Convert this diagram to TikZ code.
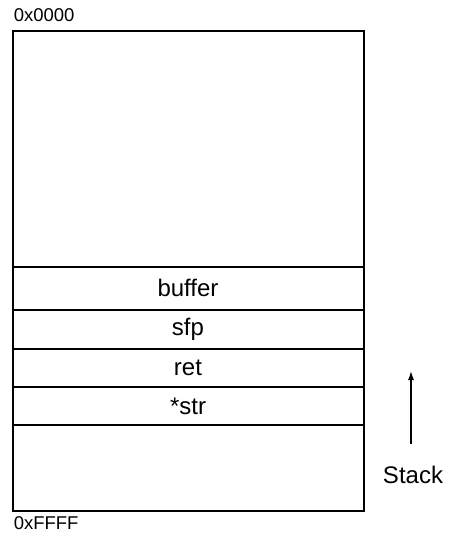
\documentclass[tikz,border=0pt]{standalone}
\usepackage{fontspec}
\setmainfont{Liberation Sans}
\usetikzlibrary{arrows.meta}
\begin{document}
\begin{tikzpicture}[x=1pt,y=-1pt,line width=1.6pt,
    every node/.style={inner sep=0pt},
    cell/.style={font=\fontsize{24}{28}\selectfont},
    addr/.style={font=\fontsize{18.5}{22}\selectfont,anchor=base west}]
  \useasboundingbox (0,0) rectangle (451,537);
  \draw
    (13,31) coordinate (tl)
    (364,511) coordinate (br);
  \draw (tl) rectangle (br);
  \begin{scope}
    \draw (13,267) coordinate (l0) -- (364,267) coordinate (r0);
    \draw (13,310) coordinate (l1) -- (364,310) coordinate (r1);
    \draw (13,349) coordinate (l2) -- (364,349) coordinate (r2);
    \draw (13,387) coordinate (l3) -- (364,387) coordinate (r3);
    \draw (13,425) coordinate (l4) -- (364,425) coordinate (r4);
  \end{scope}
  \draw
    (188,288) node[cell] (buffer){buffer}
    (188,329) node[cell] (sfp){sfp}
    (188,368) node[cell] (ret){ret}
    (188,406) node[cell] (str){*str};
  \draw
    (13,22) node[addr] (low){0x0000}
    (13,529) node[addr] (high){0xFFFF};
  \node[cell,anchor=base] (stack) at (413,483) {Stack};
  \coordinate (s0) at (411,444);
  \coordinate (s1) at (411,371);
  \draw[-{Latex[length=9pt,width=6pt]},line width=1.2pt] (s0) -- (s1);
\end{tikzpicture}
\end{document}
